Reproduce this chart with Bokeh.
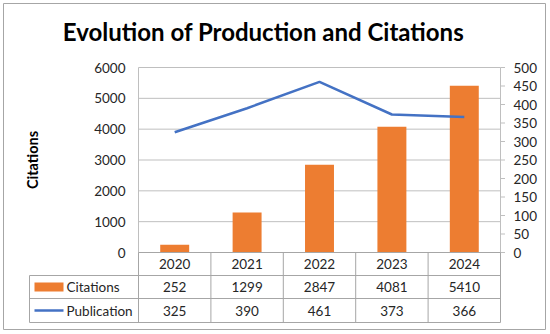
import math
from bokeh.plotting import figure
from bokeh.models import Range1d
from bokeh.embed import file_html
from bokeh.resources import INLINE
from bokeh.core.properties import value

# ---- data ----
years = ["2020", "2021", "2022", "2023", "2024"]
citations = [252, 1299, 2847, 4081, 5410]
publications = [325, 390, 461, 373, 366]
citation_ticks = [0, 1000, 2000, 3000, 4000, 5000, 6000]
publication_ticks = [0, 50, 100, 150, 200, 250, 300, 350, 400, 450, 500]
row_labels = ["Citations", "Publication"]
title_text = "Evolution of Production and Citations"
y_label = "Citations"

# ---- style / layout (pixel geometry of the chart) ----
W, H = 550, 334
PL, PR, PT, PB = 138, 500, 67, 252      # plot area in canvas pixels
CIT_MAX, PUB_MAX = 6000, 500
ORANGE = "#ED7D31"
BLUE = "#4472C4"
GRID = "#BFBFBF"
TABLE_LINE = "#A6A6A6"
FONT = "Lato"
TXT = "#262626"
FS = "13.5px"
NCOL = len(years)
colw = (PR - PL) / NCOL


def px(x):   # canvas pixel -> x data (column units)
    return (x - PL) / colw


def py(y):   # canvas pixel -> citations data
    return (PB - y) * CIT_MAX / (PB - PT)


def pyp(y):  # canvas pixel -> publications data
    return (PB - y) * PUB_MAX / (PB - PT)


p = figure(width=W, height=H, x_range=Range1d(px(0), px(W)), y_range=Range1d(py(H), py(0)),
           x_axis_type=None, y_axis_type=None, output_backend="svg", toolbar_location=None,
           min_border=0, title=None,
           styles={"position": "absolute", "left": "0px", "top": "0px"})
p.extra_y_ranges = {"pub": Range1d(pyp(H), pyp(0))}
p.outline_line_color = None
p.background_fill_color = "white"
p.border_fill_color = "white"
p.grid.visible = False

xs = [i + 0.5 for i in range(NCOL)]
font = value(FONT)

# outer border
p.quad(left=[px(3)], right=[px(545)], top=[py(3)], bottom=[py(329)], fill_color=None,
       line_color="#A6A6A6", line_width=1)

# grid lines
p.segment(x0=[0] * len(citation_ticks), x1=[NCOL] * len(citation_ticks),
          y0=citation_ticks, y1=citation_ticks, line_color=GRID, line_width=1)

# axis lines
p.segment(x0=[0, NCOL], x1=[0, NCOL], y0=[0, 0], y1=[CIT_MAX, CIT_MAX],
          line_color=GRID, line_width=1)
# right axis ticks
p.segment(x0=[NCOL] * len(publication_ticks), x1=[px(PR + 4.5)] * len(publication_ticks),
          y0=publication_ticks, y1=publication_ticks, y_range_name="pub",
          line_color=GRID, line_width=1)

# bars and line
p.vbar(x=xs, top=citations, width=0.4, bottom=0, fill_color=ORANGE, line_color=None)
p.line(x=xs, y=publications, y_range_name="pub", line_color=BLUE, line_width=2.5)

# tick labels
p.text(x=[px(125)] * len(citation_ticks), y=citation_ticks,
       text=[str(t) for t in citation_ticks], text_align="right", text_baseline="middle",
       text_font=font, text_font_size=FS, text_color=TXT)
p.text(x=[px(513)] * len(publication_ticks), y=publication_ticks, y_range_name="pub",
       text=[str(t) for t in publication_ticks], text_align="left", text_baseline="middle",
       text_font=font, text_font_size=FS, text_color=TXT)

# axis title
p.text(x=[px(32)], y=[CIT_MAX / 2], text=[y_label], angle=math.pi / 2, text_align="center",
       text_baseline="middle", text_font=font, text_font_style="bold",
       text_font_size="14.5px", text_color="black")

# chart title
p.text(x=[px(W / 2 - 12)], y=[py(31)], text=[title_text], text_align="center",
       text_baseline="middle", text_font=font, text_font_style="bold",
       text_font_size="24px", text_color="black")

# data table
row_edges = [PB, PB + 23, PB + 46, PB + 70]
LEG_L = 29
hx0 = [0, px(LEG_L), px(LEG_L), px(LEG_L)]
p.segment(x0=hx0, x1=[NCOL] * 4, y0=[py(e) for e in row_edges],
          y1=[py(e) for e in row_edges], line_color=TABLE_LINE, line_width=1)
vx = [float(k) for k in range(NCOL + 1)] + [px(LEG_L)]
vtop = [py(row_edges[0])] * (NCOL + 1) + [py(row_edges[1])]
p.segment(x0=vx, x1=vx, y0=vtop, y1=[py(row_edges[3])] * len(vx),
          line_color=TABLE_LINE, line_width=1)

row_mid = [(row_edges[i] + row_edges[i + 1]) / 2 for i in range(3)]
p.text(x=xs, y=[py(row_mid[0])] * NCOL, text=years, text_align="center",
       text_baseline="middle", text_font=font, text_font_size=FS, text_color=TXT)
for ri, vals in enumerate([citations, publications]):
    p.text(x=xs, y=[py(row_mid[ri + 1])] * NCOL, text=[str(v) for v in vals],
           text_align="center", text_baseline="middle", text_font=font,
           text_font_size=FS, text_color=TXT)
p.text(x=[px(66)] * 2, y=[py(row_mid[1]), py(row_mid[2])], text=row_labels,
       text_align="left", text_baseline="middle", text_font=font, text_font_size=FS,
       text_color=TXT)

# legend keys
p.quad(left=[px(34)], right=[px(63)], top=[py(row_mid[1] - 4.5)],
       bottom=[py(row_mid[1] + 4.5)], fill_color=ORANGE, line_color=None)
p.segment(x0=[px(34)], x1=[px(63)], y0=[py(row_mid[2])], y1=[py(row_mid[2])],
          line_color=BLUE, line_width=2.5)

open("out.html", "w").write(file_html(p, INLINE))
